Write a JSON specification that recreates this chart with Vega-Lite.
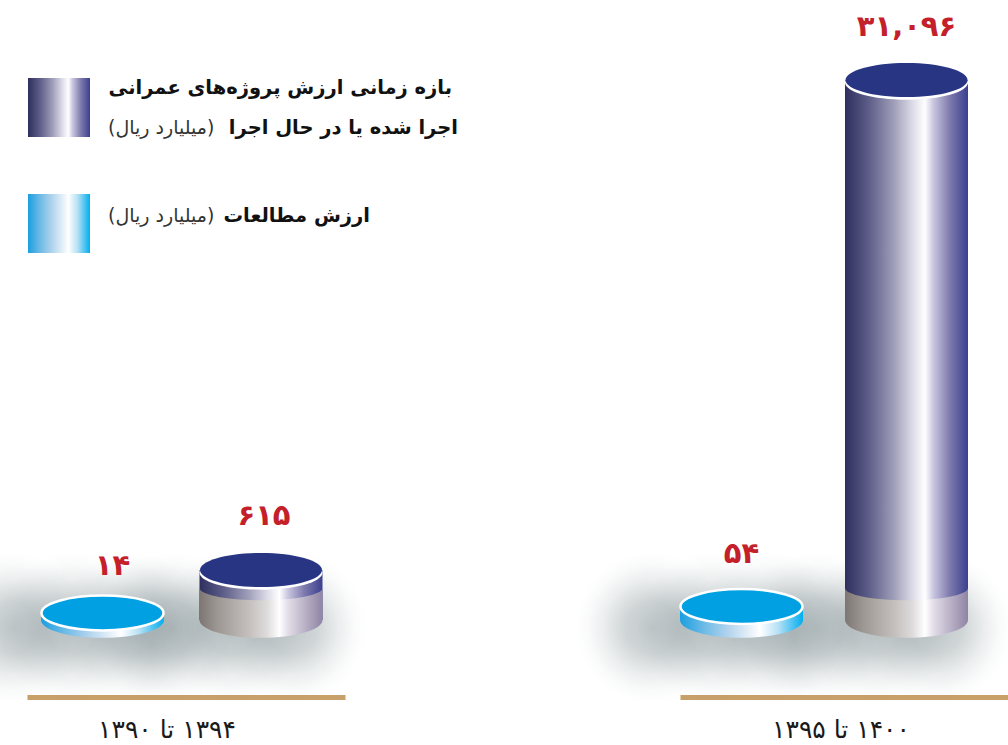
{"$schema":"https://vega.github.io/schema/vega-lite/v6.json","width":1008,"height":745,"autosize":"none","padding":0,"background":"#ffffff","config":{"view":{"stroke":null}},
"datasets":{"cyl":[
{"period":"۱۳۹۴ تا ۱۳۹۰","series":"ارزش مطالعات","value":14,"label":"۱۴"},
{"period":"۱۳۹۴ تا ۱۳۹۰","series":"پروژه‌های عمرانی","value":615,"label":"۶۱۵"},
{"period":"۱۴۰۰ تا ۱۳۹۵","series":"ارزش مطالعات","value":54,"label":"۵۴"},
{"period":"۱۴۰۰ تا ۱۳۹۵","series":"پروژه‌های عمرانی","value":31096,"label":"۳۱,۰۹۶"}],
"legendText":[
{"row":1,"col":"right","weight":"bold","text":"بازه زمانی ارزش پروژه‌های عمرانی"},
{"row":2,"col":"right","weight":"bold","text":"اجرا شده یا در حال اجرا"},
{"row":2,"col":"left","weight":"normal","text":"(میلیارد ریال)"},
{"row":3,"col":"right","weight":"bold","text":"ارزش مطالعات"},
{"row":3,"col":"left","weight":"normal","text":"(میلیارد ریال)"}],
"swatches":[{"series":"پروژه‌های عمرانی"},{"series":"ارزش مطالعات"}]},
"resolve":{"scale":{"x":"independent","y":"independent"},"axis":{"x":"independent","y":"independent"}},
"layer":[
{"data":{"name":"cyl"},"transform":[{"filter":"datum.period==='۱۳۹۴ تا ۱۳۹۰'"}],
"encoding":{"x":{"field":"series","type":"nominal","axis":null,"scale":{"type":"point","padding":0,"domain":["ارزش مطالعات","پروژه‌های عمرانی"],"range":[102.5,261]}},"y":{"field":"value","type":"quantitative","axis":null,"scale":{"domain":[0,14,54,615,31096],"range":[620,613,606.5,570,80],"nice":false,"zero":false}}},
"layer":[
{"mark":{"type":"point","filled":true,"opacity":1,"strokeWidth":0,"size":22500,"shape":"M-2.2,-0.9L-0.2,-0.9L-0.2,1.1L-2.2,1.1Z","fill":{"gradient":"radial","x1":0.5,"y1":0.5,"r1":0,"x2":0.5,"y2":0.5,"r2":0.5,"stops":[{"offset":0,"color":"rgba(85,105,110,0.36)"},{"offset":0.35,"color":"rgba(85,105,110,0.28)"},{"offset":0.65,"color":"rgba(85,105,110,0.11)"},{"offset":0.85,"color":"rgba(85,105,110,0.03)"},{"offset":1,"color":"rgba(85,105,110,0)"}]}},"encoding":{"y":{"datum":0}}},
{"mark":{"type":"point","filled":true,"opacity":1,"strokeWidth":0,"size":22500,"shape":"M-1.4,-0.9L0.6,-0.9L0.6,1.1L-1.4,1.1Z","fill":{"gradient":"radial","x1":0.5,"y1":0.5,"r1":0,"x2":0.5,"y2":0.5,"r2":0.5,"stops":[{"offset":0,"color":"rgba(85,105,110,0.36)"},{"offset":0.35,"color":"rgba(85,105,110,0.28)"},{"offset":0.65,"color":"rgba(85,105,110,0.11)"},{"offset":0.85,"color":"rgba(85,105,110,0.03)"},{"offset":1,"color":"rgba(85,105,110,0)"}]}},"encoding":{"y":{"datum":0}}},
{"mark":{"type":"point","filled":true,"opacity":1,"strokeWidth":0,"size":22500,"shape":"M-0.6,-0.9L1.4,-0.9L1.4,1.1L-0.6,1.1Z","fill":{"gradient":"radial","x1":0.5,"y1":0.5,"r1":0,"x2":0.5,"y2":0.5,"r2":0.5,"stops":[{"offset":0,"color":"rgba(85,105,110,0.36)"},{"offset":0.35,"color":"rgba(85,105,110,0.28)"},{"offset":0.65,"color":"rgba(85,105,110,0.11)"},{"offset":0.85,"color":"rgba(85,105,110,0.03)"},{"offset":1,"color":"rgba(85,105,110,0)"}]}},"encoding":{"y":{"datum":0}}},
{"transform":[{"filter":"datum.series==='ارزش مطالعات'"}],"layer":[
{"mark":{"type":"bar","size":123,"color":{"gradient":"linear","x1":0,"y1":0,"x2":1,"y2":0,"stops":[{"offset":0,"color":"#1b9fe0"},{"offset":0.2,"color":"#6fbbe6"},{"offset":0.4,"color":"#b5d5ee"},{"offset":0.6,"color":"#f0f6fb"},{"offset":0.65,"color":"#ffffff"},{"offset":0.8,"color":"#b5e0f5"},{"offset":1,"color":"#00aeef"}]}},"encoding":{"y2":{"datum":0}}},
{"mark":{"type":"point","filled":true,"opacity":1,"strokeWidth":0,"size":15129,"shape":"M-1,0A1,0.29 0 1 0 1,0A1,0.29 0 1 0 -1,0Z","fill":{"gradient":"linear","x1":0,"y1":0,"x2":1,"y2":0,"stops":[{"offset":0,"color":"#1b9fe0"},{"offset":0.2,"color":"#6fbbe6"},{"offset":0.4,"color":"#b5d5ee"},{"offset":0.6,"color":"#f0f6fb"},{"offset":0.65,"color":"#ffffff"},{"offset":0.8,"color":"#b5e0f5"},{"offset":1,"color":"#00aeef"}]}},"encoding":{"y":{"datum":0}}},
{"mark":{"type":"point","filled":true,"opacity":1,"fill":"#00a0e3","stroke":"#ffffff","strokeWidth":2.5,"size":14884,"shape":"M-1,0A1,0.285 0 1 0 1,0A1,0.285 0 1 0 -1,0Z"}},
{"mark":{"type":"text","font":"DejaVu Sans","fontWeight":"bold","fontSize":29,"color":"#c4202a","dy":-47,"dx":10,"baseline":"middle"},"encoding":{"text":{"field":"label"}}}]},
{"transform":[{"filter":"datum.series==='پروژه‌های عمرانی'"}],"layer":[
{"mark":{"type":"bar","size":123,"color":{"gradient":"linear","x1":0,"y1":0,"x2":1,"y2":0,"stops":[{"offset":0,"color":"#2f2f5f"},{"offset":0.2,"color":"#5f5f8a"},{"offset":0.4,"color":"#a09fba"},{"offset":0.55,"color":"#dcdbe8"},{"offset":0.65,"color":"#ffffff"},{"offset":0.72,"color":"#c8c5df"},{"offset":0.85,"color":"#7f7bae"},{"offset":1,"color":"#3a3f8f"}]}},"encoding":{"y2":{"datum":0}}},
{"mark":{"type":"point","filled":true,"opacity":1,"strokeWidth":0,"size":15129,"shape":"M-1,-0.52A1,0.2 0 0 0 1,-0.52L1,0A1,0.29 0 0 1 -1,0Z","fill":{"gradient":"linear","x1":0,"y1":0,"x2":1,"y2":0,"stops":[{"offset":0,"color":"#7d7672"},{"offset":0.15,"color":"#9e9894"},{"offset":0.4,"color":"#c4bfbd"},{"offset":0.55,"color":"#dedbdc"},{"offset":0.65,"color":"#ffffff"},{"offset":0.72,"color":"#e2dde8"},{"offset":1,"color":"#8f84a3"}]}},"encoding":{"y":{"datum":0}}},
{"mark":{"type":"point","filled":true,"opacity":1,"strokeWidth":0,"fill":"#ffffff","size":15129,"shape":"M-1,0.04A1,0.28 0 1 0 1,0.04A1,0.28 0 1 0 -1,0.04Z"}},
{"mark":{"type":"point","filled":true,"opacity":1,"strokeWidth":0,"fill":"#283583","size":14884,"shape":"M-1,0A1,0.28 0 1 0 1,0A1,0.28 0 1 0 -1,0Z"}},
{"mark":{"type":"text","font":"DejaVu Sans","fontWeight":"bold","fontSize":29,"color":"#c4202a","dy":-54,"dx":3,"baseline":"middle"},"encoding":{"text":{"field":"label"}}}]}
]},
{"data":{"name":"cyl"},"transform":[{"filter":"datum.period==='۱۴۰۰ تا ۱۳۹۵'"}],
"encoding":{"x":{"field":"series","type":"nominal","axis":null,"scale":{"type":"point","padding":0,"domain":["ارزش مطالعات","پروژه‌های عمرانی"],"range":[741.5,906.5]}},"y":{"field":"value","type":"quantitative","axis":null,"scale":{"domain":[0,14,54,615,31096],"range":[620,613,606.5,570,80],"nice":false,"zero":false}}},
"layer":[
{"mark":{"type":"point","filled":true,"opacity":1,"strokeWidth":0,"size":22500,"shape":"M-2.2,-0.9L-0.2,-0.9L-0.2,1.1L-2.2,1.1Z","fill":{"gradient":"radial","x1":0.5,"y1":0.5,"r1":0,"x2":0.5,"y2":0.5,"r2":0.5,"stops":[{"offset":0,"color":"rgba(85,105,110,0.36)"},{"offset":0.35,"color":"rgba(85,105,110,0.28)"},{"offset":0.65,"color":"rgba(85,105,110,0.11)"},{"offset":0.85,"color":"rgba(85,105,110,0.03)"},{"offset":1,"color":"rgba(85,105,110,0)"}]}},"encoding":{"y":{"datum":0}}},
{"mark":{"type":"point","filled":true,"opacity":1,"strokeWidth":0,"size":22500,"shape":"M-1.4,-0.9L0.6,-0.9L0.6,1.1L-1.4,1.1Z","fill":{"gradient":"radial","x1":0.5,"y1":0.5,"r1":0,"x2":0.5,"y2":0.5,"r2":0.5,"stops":[{"offset":0,"color":"rgba(85,105,110,0.36)"},{"offset":0.35,"color":"rgba(85,105,110,0.28)"},{"offset":0.65,"color":"rgba(85,105,110,0.11)"},{"offset":0.85,"color":"rgba(85,105,110,0.03)"},{"offset":1,"color":"rgba(85,105,110,0)"}]}},"encoding":{"y":{"datum":0}}},
{"mark":{"type":"point","filled":true,"opacity":1,"strokeWidth":0,"size":22500,"shape":"M-0.6,-0.9L1.4,-0.9L1.4,1.1L-0.6,1.1Z","fill":{"gradient":"radial","x1":0.5,"y1":0.5,"r1":0,"x2":0.5,"y2":0.5,"r2":0.5,"stops":[{"offset":0,"color":"rgba(85,105,110,0.36)"},{"offset":0.35,"color":"rgba(85,105,110,0.28)"},{"offset":0.65,"color":"rgba(85,105,110,0.11)"},{"offset":0.85,"color":"rgba(85,105,110,0.03)"},{"offset":1,"color":"rgba(85,105,110,0)"}]}},"encoding":{"y":{"datum":0}}},
{"transform":[{"filter":"datum.series==='ارزش مطالعات'"}],"layer":[
{"mark":{"type":"bar","size":123,"color":{"gradient":"linear","x1":0,"y1":0,"x2":1,"y2":0,"stops":[{"offset":0,"color":"#1b9fe0"},{"offset":0.2,"color":"#6fbbe6"},{"offset":0.4,"color":"#b5d5ee"},{"offset":0.6,"color":"#f0f6fb"},{"offset":0.65,"color":"#ffffff"},{"offset":0.8,"color":"#b5e0f5"},{"offset":1,"color":"#00aeef"}]}},"encoding":{"y2":{"datum":0}}},
{"mark":{"type":"point","filled":true,"opacity":1,"strokeWidth":0,"size":15129,"shape":"M-1,0A1,0.29 0 1 0 1,0A1,0.29 0 1 0 -1,0Z","fill":{"gradient":"linear","x1":0,"y1":0,"x2":1,"y2":0,"stops":[{"offset":0,"color":"#1b9fe0"},{"offset":0.2,"color":"#6fbbe6"},{"offset":0.4,"color":"#b5d5ee"},{"offset":0.6,"color":"#f0f6fb"},{"offset":0.65,"color":"#ffffff"},{"offset":0.8,"color":"#b5e0f5"},{"offset":1,"color":"#00aeef"}]}},"encoding":{"y":{"datum":0}}},
{"mark":{"type":"point","filled":true,"opacity":1,"fill":"#00a0e3","stroke":"#ffffff","strokeWidth":2.5,"size":14884,"shape":"M-1,0A1,0.285 0 1 0 1,0A1,0.285 0 1 0 -1,0Z"}}]},
{"transform":[{"filter":"datum.series==='پروژه‌های عمرانی'"}],"layer":[
{"mark":{"type":"bar","size":123,"color":{"gradient":"linear","x1":0,"y1":0,"x2":1,"y2":0,"stops":[{"offset":0,"color":"#2f2f5f"},{"offset":0.2,"color":"#5f5f8a"},{"offset":0.4,"color":"#a09fba"},{"offset":0.55,"color":"#dcdbe8"},{"offset":0.65,"color":"#ffffff"},{"offset":0.72,"color":"#c8c5df"},{"offset":0.85,"color":"#7f7bae"},{"offset":1,"color":"#3a3f8f"}]}},"encoding":{"y2":{"datum":0}}},
{"mark":{"type":"point","filled":true,"opacity":1,"strokeWidth":0,"size":15129,"shape":"M-1,-0.52A1,0.2 0 0 0 1,-0.52L1,0A1,0.29 0 0 1 -1,0Z","fill":{"gradient":"linear","x1":0,"y1":0,"x2":1,"y2":0,"stops":[{"offset":0,"color":"#7d7672"},{"offset":0.15,"color":"#9e9894"},{"offset":0.4,"color":"#c4bfbd"},{"offset":0.55,"color":"#dedbdc"},{"offset":0.65,"color":"#ffffff"},{"offset":0.72,"color":"#e2dde8"},{"offset":1,"color":"#8f84a3"}]}},"encoding":{"y":{"datum":0}}},
{"mark":{"type":"point","filled":true,"opacity":1,"strokeWidth":0,"fill":"#ffffff","size":15129,"shape":"M-1,0.04A1,0.28 0 1 0 1,0.04A1,0.28 0 1 0 -1,0.04Z"}},
{"mark":{"type":"point","filled":true,"opacity":1,"strokeWidth":0,"fill":"#283583","size":14884,"shape":"M-1,0A1,0.28 0 1 0 1,0A1,0.28 0 1 0 -1,0Z"}}]},
{"mark":{"type":"text","font":"DejaVu Sans","fontWeight":"bold","fontSize":29,"color":"#c4202a","dy":-53,"baseline":"middle"},"encoding":{"text":{"field":"label"}}}
]},
{"data":{"name":"cyl"},"transform":[{"filter":"datum.period==='۱۳۹۴ تا ۱۳۹۰'"}],"mark":{"type":"rule","opacity":0},"encoding":{"x":{"field":"period","type":"nominal","scale":{"type":"band","domain":["۱۳۹۴ تا ۱۳۹۰"],"range":[27,345],"paddingInner":0,"paddingOuter":0},"axis":{"orient":"bottom","title":null,"offset":-48,"domainColor":"#c8a06a","domainWidth":5,"ticks":false,"grid":false,"labelAngle":0,"labelFont":"DejaVu Sans","labelFontSize":25,"labelColor":"#1a1a1a","labelPadding":20,"labelOffset":-19,"labelOverlap":false,"labelBound":false,"labelFlush":false,"labelExpr":"'\u200f'+datum.label"}}}},
{"data":{"name":"cyl"},"transform":[{"filter":"datum.period==='۱۴۰۰ تا ۱۳۹۵'"}],"mark":{"type":"rule","opacity":0},"encoding":{"x":{"field":"period","type":"nominal","scale":{"type":"band","domain":["۱۴۰۰ تا ۱۳۹۵"],"range":[680,1008],"paddingInner":0,"paddingOuter":0},"axis":{"orient":"bottom","title":null,"offset":-48,"domainColor":"#c8a06a","domainWidth":5,"ticks":false,"grid":false,"labelAngle":0,"labelFont":"DejaVu Sans","labelFontSize":25,"labelColor":"#1a1a1a","labelPadding":20,"labelOffset":-3,"labelOverlap":false,"labelBound":false,"labelFlush":false,"labelExpr":"'\u200f'+datum.label"}}}},
{"data":{"name":"swatches"},
"encoding":{"x":{"field":"series","type":"nominal","axis":null,"scale":{"type":"point","padding":0,"domain":["ارزش مطالعات","پروژه‌های عمرانی"],"range":[59,59]}},"y":{"field":"series","type":"nominal","axis":null,"scale":{"type":"point","padding":0,"domain":["پروژه‌های عمرانی","ارزش مطالعات"],"range":[107.5,223.5]}}},
"layer":[
{"transform":[{"filter":"datum.series==='پروژه‌های عمرانی'"}],"mark":{"type":"point","filled":true,"opacity":1,"strokeWidth":0,"size":3844,"shape":"M-1,-0.95L1,-0.95L1,0.95L-1,0.95Z","fill":{"gradient":"linear","x1":0,"y1":0,"x2":1,"y2":0,"stops":[{"offset":0,"color":"#2f2f5f"},{"offset":0.2,"color":"#5f5f8a"},{"offset":0.4,"color":"#a09fba"},{"offset":0.55,"color":"#dcdbe8"},{"offset":0.65,"color":"#ffffff"},{"offset":0.72,"color":"#c8c5df"},{"offset":0.85,"color":"#7f7bae"},{"offset":1,"color":"#3a3f8f"}]}}},
{"transform":[{"filter":"datum.series==='ارزش مطالعات'"}],"mark":{"type":"point","filled":true,"opacity":1,"strokeWidth":0,"size":3844,"shape":"M-1,-0.95L1,-0.95L1,0.95L-1,0.95Z","fill":{"gradient":"linear","x1":0,"y1":0,"x2":1,"y2":0,"stops":[{"offset":0,"color":"#1b9fe0"},{"offset":0.2,"color":"#6fbbe6"},{"offset":0.4,"color":"#b5d5ee"},{"offset":0.6,"color":"#f0f6fb"},{"offset":0.65,"color":"#ffffff"},{"offset":0.8,"color":"#b5e0f5"},{"offset":1,"color":"#00aeef"}]}}}]},
{"data":{"name":"legendText"},
"encoding":{"x":{"field":"col","type":"nominal","axis":null,"scale":{"type":"point","padding":0,"domain":["left","right"],"range":[108,458]}},"y":{"field":"row","type":"quantitative","axis":null,"scale":{"domain":[1,2,3],"range":[88,128,216],"nice":false,"zero":false}},"text":{"field":"text"}},
"layer":[
{"transform":[{"filter":"datum.row===1"}],"mark":{"type":"text","font":"DejaVu Sans","fontWeight":"bold","fontSize":19.5,"color":"#111111","align":"right","baseline":"middle","dx":-6}},
{"transform":[{"filter":"datum.row===2&&datum.weight==='bold'"}],"mark":{"type":"text","font":"DejaVu Sans","fontWeight":"bold","fontSize":19.5,"color":"#111111","align":"right","baseline":"middle"}},
{"transform":[{"filter":"datum.row===3&&datum.weight==='bold'"}],"mark":{"type":"text","font":"DejaVu Sans","fontWeight":"bold","fontSize":19.5,"color":"#111111","align":"right","baseline":"middle","dx":-88}},
{"transform":[{"filter":"datum.weight==='normal'"}],"mark":{"type":"text","font":"DejaVu Sans","fontSize":19,"color":"#333333","align":"left","baseline":"middle"}}]}
]}
